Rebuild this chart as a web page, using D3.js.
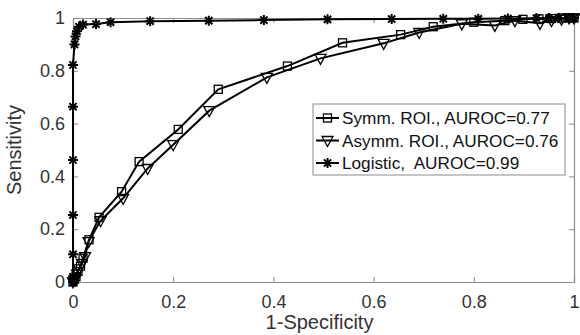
<!DOCTYPE html>
<html>
<head>
<meta charset="utf-8">
<script src="https://cdn.jsdelivr.net/npm/d3@7"></script>
<style>
  body { margin: 0; background: #fff; }
  svg { font-family: "Liberation Sans", Arial, sans-serif; }
  text { white-space: pre; }
</style>
</head>
<body>
<svg id="chart" width="580" height="335"></svg>
<script>
// ROI curves: [1-specificity, sensitivity]
const symmROI = [
  [0, 0], [0.003, 0.01], [0.006, 0.02], [0.01, 0.04], [0.015, 0.06], [0.02, 0.09],
  [0.032, 0.16], [0.052, 0.245], [0.097, 0.342], [0.132, 0.456], [0.21, 0.578],
  [0.29, 0.73], [0.428, 0.818], [0.538, 0.906], [0.654, 0.937], [0.719, 0.967],
  [0.80, 0.984], [0.862, 0.99], [0.898, 0.995], [0.93, 0.997], [0.955, 0.998],
  [0.975, 1], [0.99, 1], [1, 1]
];
const asymmROI = [
  [0, 0], [0.004, 0.01], [0.008, 0.03], [0.012, 0.05], [0.018, 0.07], [0.024, 0.096],
  [0.031, 0.153], [0.055, 0.232], [0.10, 0.317], [0.149, 0.43], [0.20, 0.52],
  [0.272, 0.649], [0.387, 0.775], [0.494, 0.847], [0.62, 0.904], [0.691, 0.945],
  [0.776, 0.978], [0.842, 0.972], [0.882, 0.99], [0.932, 0.98], [0.955, 0.99],
  [0.975, 0.996], [0.99, 1], [1, 1]
];
const logistic = [
  [0, 0], [0, 0.02], [0, 0.105], [0, 0.254], [0, 0.462], [0, 0.664], [0, 0.822],
  [0.003, 0.9], [0.005, 0.93], [0.008, 0.95], [0.012, 0.967], [0.02, 0.975],
  [0.046, 0.977], [0.075, 0.984], [0.154, 0.988], [0.271, 0.99], [0.381, 0.992],
  [0.508, 0.995], [0.636, 0.996], [0.739, 0.997], [0.809, 0.997], [0.868, 0.998],
  [0.925, 0.999], [0.95, 1], [0.97, 1], [0.99, 1], [1, 1]
];
const legendLabels = ['Symm. ROI., AUROC=0.77', 'Asymm. ROI., AUROC=0.76', 'Logistic,  AUROC=0.99'];
const xTicks = [0, 0.2, 0.4, 0.6, 0.8, 1];
const yTicks = [0, 0.2, 0.4, 0.6, 0.8, 1];

const svg = d3.select('#chart');
const margin = { left: 73, right: 6, top: 18, bottom: 53 };
const width = 580 - margin.left - margin.right;
const height = 335 - margin.top - margin.bottom;

const x = d3.scaleLinear().domain([0, 1]).range([0, width]);
const y = d3.scaleLinear().domain([0, 1]).range([height, 0]);

const g = svg.append('g').attr('transform', `translate(${margin.left},${margin.top})`);

const axisColor = '#8c8c8c';
const textColor = '#333';

// Axes with inward ticks on all four sides (box on)
const fmt = d => d === 0 || d === 1 ? String(d) : d.toFixed(1);
const styleAxis = (sel, showText) => {
  sel.select('.domain').attr('stroke', axisColor).attr('stroke-width', 1.2);
  sel.selectAll('.tick line').attr('stroke', axisColor).attr('stroke-width', 1);
  sel.selectAll('.tick text')
    .attr('fill', textColor)
    .style('font-size', '18px')
    .attr('display', showText ? null : 'none');
};
g.append('g').attr('transform', `translate(0,${height})`)
  .call(d3.axisBottom(x).tickValues(xTicks).tickSize(-5).tickPadding(13).tickFormat(fmt))
  .call(s => styleAxis(s, true));
g.append('g')
  .call(d3.axisTop(x).tickValues(xTicks).tickSize(-5).tickFormat(''))
  .call(s => styleAxis(s, false));
g.append('g')
  .call(d3.axisLeft(y).tickValues(yTicks).tickSize(-5).tickPadding(8).tickFormat(fmt))
  .call(s => styleAxis(s, true));
g.append('g').attr('transform', `translate(${width},0)`)
  .call(d3.axisRight(y).tickValues(yTicks).tickSize(-5).tickFormat(''))
  .call(s => styleAxis(s, false));

// Axis labels
svg.append('text')
  .attr('x', margin.left + width / 2 - 4).attr('y', 329)
  .attr('text-anchor', 'middle').attr('fill', textColor)
  .style('font-size', '20px').text('1-Specificity');
svg.append('text')
  .attr('transform', `translate(21,${margin.top + height / 2}) rotate(-90)`)
  .attr('text-anchor', 'middle').attr('fill', textColor)
  .style('font-size', '20px').text('Sensitivity');

// Markers
const drawMarker = (sel, type) => {
  if (type === 'square') {
    sel.append('rect').attr('x', -4).attr('y', -4).attr('width', 8).attr('height', 8)
      .attr('fill', 'none').attr('stroke', '#000').attr('stroke-width', 1.3);
  } else if (type === 'triangle') {
    sel.append('path').attr('d', 'M-5.5,-4 L5.5,-4 L0,6 Z')
      .attr('fill', 'none').attr('stroke', '#000').attr('stroke-width', 1.3);
  } else {
    sel.append('path').attr('d', 'M-5,0 L5,0 M0,-5 L0,5 M-3.6,-3.6 L3.6,3.6 M-3.6,3.6 L3.6,-3.6')
      .attr('stroke', '#000').attr('stroke-width', 2);
  }
};

const series = [
  { data: symmROI, marker: 'square' },
  { data: asymmROI, marker: 'triangle' },
  { data: logistic, marker: 'star' }
];

const line = d3.line().x(d => x(d[0])).y(d => y(d[1]));
const plot = g.append('g');

series.forEach(s => {
  plot.append('path')
    .attr('d', line(s.data))
    .attr('fill', 'none').attr('stroke', '#000').attr('stroke-width', 2);
  plot.selectAll(null)
    .data(s.data)
    .join('g')
      .attr('transform', d => `translate(${x(d[0])},${y(d[1])})`)
      .each(function () { drawMarker(d3.select(this), s.marker); });
});

// Legend
const legend = svg.append('g').attr('transform', 'translate(313,104)');
legend.append('rect')
  .attr('width', 252).attr('height', 71)
  .attr('fill', '#fff').attr('stroke', axisColor).attr('stroke-width', 1);
legendLabels.forEach((label, i) => {
  const row = legend.append('g').attr('transform', `translate(0,${14 + i * 22.5})`);
  row.append('line').attr('x1', 3).attr('x2', 26).attr('y1', 0).attr('y2', 0)
    .attr('stroke', '#000').attr('stroke-width', 2);
  const m = row.append('g').attr('transform', 'translate(14.5,0)');
  drawMarker(m, series[i].marker);
  row.append('text').attr('x', 29).attr('y', 6)
    .attr('fill', '#111').style('font-size', '17.2px').text(label);
});
</script>
</body>
</html>
